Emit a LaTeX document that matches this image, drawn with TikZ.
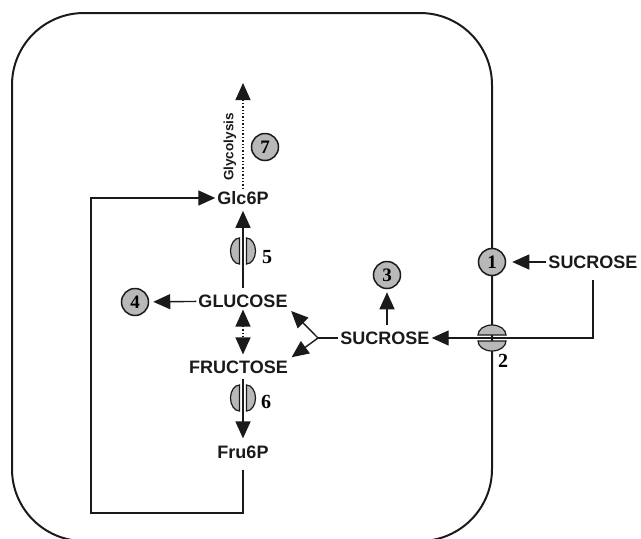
\documentclass[tikz,border=0pt]{standalone}
\usepackage{fontspec}
\setmainfont{Liberation Sans}
\newfontfamily\numfont{Liberation Serif}
\usetikzlibrary{arrows.meta,positioning,calc}
\definecolor{cellink}{HTML}{1A1A1A}
\definecolor{cellgray}{HTML}{B8B8B8}
\tikzset{
  bigtip/.tip={Triangle[length=17pt, width=15pt]},
  met/.style={font=\fontsize{18}{20}\selectfont\bfseries, inner sep=2pt, text=cellink},
  num/.style={circle, draw=cellink, line width=1.5pt, fill=cellgray, minimum size=27pt, inner sep=0pt, font=\fontsize{19}{20}\selectfont\numfont\bfseries},
  tag/.style={font=\fontsize{20}{20}\selectfont\numfont\bfseries, inner sep=0pt},
  porter/.style={draw=cellink, line width=1.2pt, fill=cellgray},
  arr/.style={-{bigtip}, line width=1.4pt, color=cellink},
  wall/.style={draw=cellink, line width=2pt, rounded corners=72pt},
}

\begin{document}
\begin{tikzpicture}[x=1pt, y=1pt]
  \useasboundingbox (0,-539) rectangle (641,0);
  \draw[wall] (12,-13) rectangle (492,-541);
  % carriers on the axis and in the wall
  \foreach \y in {251,398} {
    \filldraw[porter] (239.5,-\y+13) arc[start angle=90, end angle=270, x radius=9, y radius=13] -- cycle;
    \filldraw[porter] (246.5,-\y+13) arc[start angle=90, end angle=-90, x radius=9, y radius=13] -- cycle;
  }
  \filldraw[porter] (478,-335) arc[start angle=180, end angle=0, x radius=14, y radius=10] -- cycle;
  \filldraw[porter] (478,-341) arc[start angle=180, end angle=360, x radius=14, y radius=10] -- cycle;
  % metabolites
  \node[met] (sucout) at (593,-262) {SUCROSE};
  \node[met] (suc) at (385,-338) {SUCROSE};
  \node[met] (glc) at (243,-301) {GLUCOSE};
  \node[met] (fru) at (238.5,-367) {FRUCTOSE};
  \node[met] (g6p) at (243,-198) {Glc6P};
  \node[met] (f6p) at (243,-452) {Fru6P};
  \node[met, font=\fontsize{13.5}{14}\selectfont\bfseries, rotate=90] (gly) at (230,-147) {Glycolysis};
  \foreach \n/\x/\y in {1/492/262, 3/387/275, 4/135/302, 7/265/147}
    \node[num] (c\n) at (\x,-\y) {\n};
  \node[tag] (t2) at (503,-361) {2};
  \node[tag] (t5) at (267,-257) {5};
  \node[tag] (t6) at (266,-402) {6};
  \coordinate (top) at (243,-83);
  \coordinate (fork) at (318,-338);
  \coordinate (loop) at (91,-513);
  % connectors
  \draw[arr, shorten >=6pt] (sucout) -- (c1);
  \draw[arr] ([yshift=-9pt]sucout.south) |- (suc.east);
  \draw[arr, shorten <=4pt, shorten >=3pt] (suc.north -| c3) -- (c3);
  \draw[line width=1.4pt, color=cellink] (suc.west) -- (fork);
  \draw[arr, shorten >=2pt] (fork) -- (glc.south east);
  \draw[arr, shorten >=2pt] (fork) -- (fru.north east);
  \draw[arr, shorten >=4pt] (glc) -- (c4);
  \draw[arr, shorten <=4pt, shorten >=4pt] (glc) -- (g6p);
  \draw[arr, shorten <=3pt, shorten >=5pt] (fru.south -| f6p) -- (f6p.north);
  \draw[dotted, line width=1.2pt, color=cellink, {bigtip}-{bigtip}, shorten >=4pt] (glc.south) -- (glc.south |- fru.north);
  \draw[arr, dotted, line width=1.2pt] (g6p) -- (top);
  \draw[arr] ([yshift=-9pt]f6p.south) |- (loop) |- (g6p.west);
\end{tikzpicture}
\end{document}
